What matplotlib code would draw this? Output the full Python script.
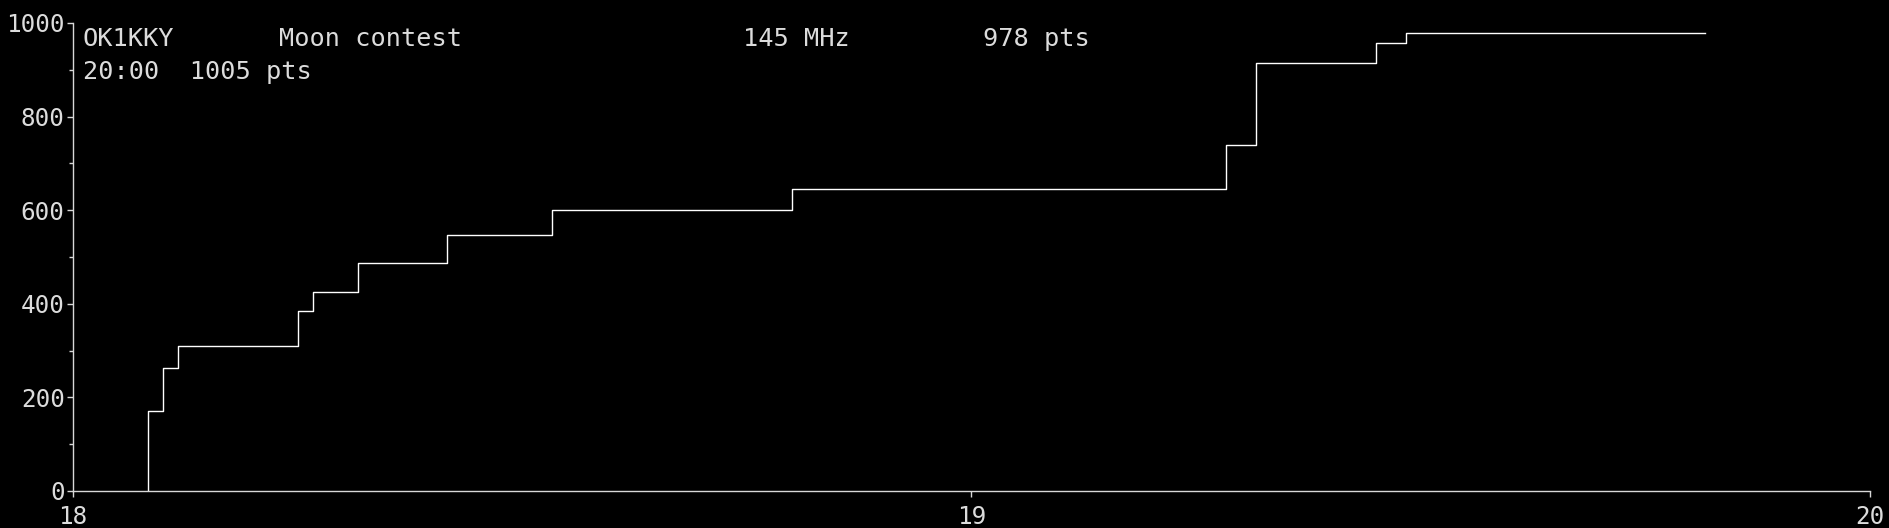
import matplotlib
matplotlib.use("Agg")
import matplotlib.pyplot as plt
from matplotlib.ticker import MultipleLocator

# Data (cumulative score vs. time)
times = ["18:05", "18:06", "18:07", "18:15", "18:16", "18:19", "18:25",
         "18:32", "18:48", "19:17", "19:19", "19:27", "19:29"]
points = [172, 262, 310, 384, 425, 487, 548, 600, 645, 739, 914, 957, 978]
end_time = "19:49"

x_ticks = [18, 19, 20]
y_ticks = [0, 200, 400, 600, 800, 1000]

header_call = "OK1KKY"
header_contest = "Moon contest"
header_band = "145 MHz"
header_score = "978 pts"
header_line2 = "20:00  1005 pts"


def to_hours(s):
    h, m = s.split(":")
    return int(h) + int(m) / 60.0


xs = [to_hours(times[0])] + [to_hours(t) for t in times] + [to_hours(end_time)]
ys = [0] + points + [points[-1]]

plt.rcParams['font.family'] = ['DejaVu Sans Mono']
TXT = '#dcdcdc'
W, H = 1890, 528
fig = plt.figure(figsize=(W / 100, H / 100), dpi=100, facecolor='black')
ax = fig.add_axes([73 / W, 1 - 491 / H, (1870 - 73) / W, (491 - 23) / H])
ax.set_facecolor('black')

ax.step(xs, ys, where='post', color='white', linewidth=1.0)

ax.set_xlim(18, 20)
ax.set_ylim(0, 1000)
ax.set_xticks(x_ticks)
ax.set_xticklabels([str(v) for v in x_ticks])
ax.set_yticks(y_ticks)
ax.yaxis.set_minor_locator(MultipleLocator(100))

for s in ['top', 'right']:
    ax.spines[s].set_visible(False)
for s in ['left', 'bottom']:
    ax.spines[s].set_color('#d8d8d8')
    ax.spines[s].set_linewidth(1.0)

ax.tick_params(axis='both', which='major', colors='#d8d8d8', labelcolor=TXT,
               labelsize=17.5, length=4, width=1, direction='out')
ax.tick_params(axis='y', which='minor', colors='#d8d8d8', length=3, width=1)
ax.tick_params(axis='y', which='major', pad=2)
ax.tick_params(axis='x', which='major', pad=6)

fs = 18.2
fig.text(83 / W, 1 - 46 / H, header_call, color=TXT, fontsize=fs, va='baseline', ha='left')
fig.text(279 / W, 1 - 46 / H, header_contest, color=TXT, fontsize=fs, va='baseline', ha='left')
fig.text(743 / W, 1 - 46 / H, header_band, color=TXT, fontsize=fs, va='baseline', ha='left')
fig.text(983 / W, 1 - 46 / H, header_score, color=TXT, fontsize=fs, va='baseline', ha='left')
fig.text(83 / W, 1 - 79 / H, header_line2, color=TXT, fontsize=fs, va='baseline', ha='left')

fig.savefig('out.png', dpi=100, facecolor='black')
